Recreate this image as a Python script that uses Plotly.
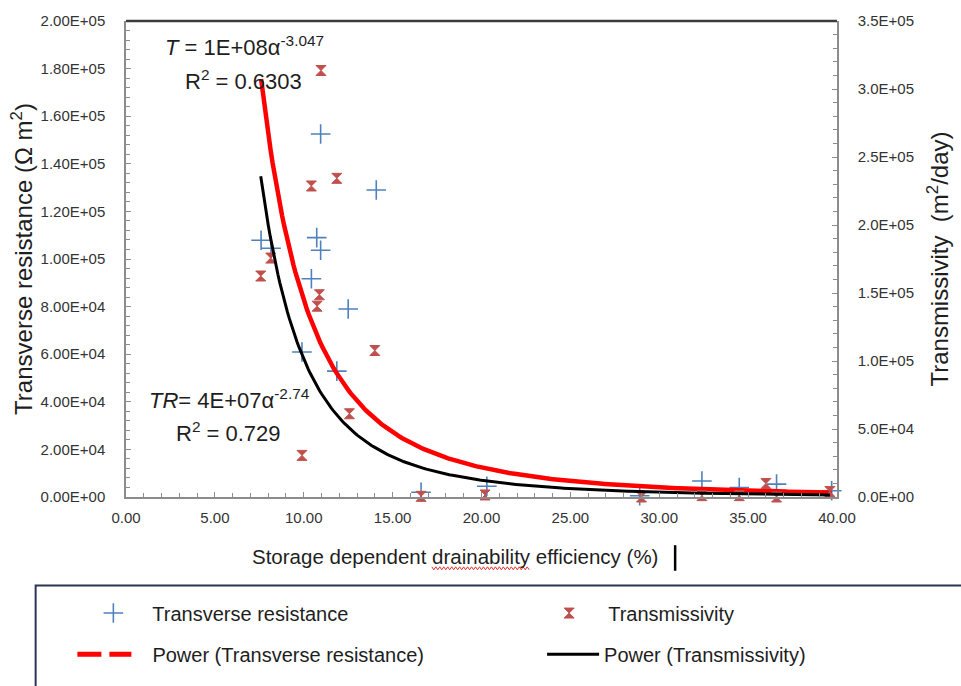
import numpy as np
import plotly.graph_objects as go

# ---------------- data ----------------
# Transverse resistance (left axis, Ohm m2) vs drainability efficiency (%)
tr_x = [7.60, 8.16, 9.90, 10.43, 10.73, 10.95, 10.95, 11.86, 12.50, 14.08,
        16.60, 20.30, 28.90, 32.40, 34.50, 36.60, 39.70]
tr_y = [107900, 104500, 60900, 91700, 109000, 152500, 103700, 52900, 79000, 129000,
        2000, 4500, 500, 6700, 4000, 5400, 2600]

# Transmissivity (right axis, m2/day) vs drainability efficiency (%)
t_x = [7.58, 8.14, 9.90, 10.43, 10.75, 10.88, 10.97, 11.86, 12.57, 14.00,
       16.60, 20.20, 29.00, 32.40, 34.50, 36.00, 36.60, 39.60]
t_y = [162500, 175700, 30600, 228700, 140300, 148700, 313600, 234300, 61200, 107700,
       500, 1500, 0, 1000, 1000, 9900, 0, 4000]

# Power trend lines  y = a * x^b (coefficients)
tr_coef, tr_exp = 4.55e7, -2.74
t_coef, t_exp = 1.13e8, -3.047

# tick labels
x_tickvals = [0, 5, 10, 15, 20, 25, 30, 35, 40]
x_ticktext = ["0.00", "5.00", "10.00", "15.00", "20.00", "25.00", "30.00", "35.00", "40.00"]
y_tickvals = [0, 20000, 40000, 60000, 80000, 100000, 120000, 140000, 160000, 180000, 200000]
y_ticktext = ["0.00E+00", "2.00E+04", "4.00E+04", "6.00E+04", "8.00E+04", "1.00E+05",
              "1.20E+05", "1.40E+05", "1.60E+05", "1.80E+05", "2.00E+05"]
y2_tickvals = [0, 50000, 100000, 150000, 200000, 250000, 300000, 350000]
y2_ticktext = ["0.0E+00", "5.0E+04", "1.0E+05", "1.5E+05", "2.0E+05", "2.5E+05",
               "3.0E+05", "3.5E+05"]

# ---------------- layout geometry (pixels) ----------------
W, H = 961, 686
PX0, PX1, PY0, PY1 = 126, 842, 19, 503


def px(xp):
    return (xp - PX0) / (PX1 - PX0)


def py(yp):
    return (PY1 - yp) / (PY1 - PY0)


FONT = "Liberation Sans, Arial, sans-serif"
TXT = "#1e1e1e"
BLUE = "#4f81bd"
DRED = "#c0504d"

fig = go.Figure()

# trend-line samples over each series' x range
tr_grid = np.linspace(min(tr_x), max(tr_x), 300)
t_grid = np.linspace(min(t_x), max(t_x), 300)

fig.add_trace(go.Scatter(
    x=tr_x, y=tr_y, mode="markers", name="Transverse resistance",
    marker=dict(symbol="cross-thin", size=14, color=BLUE, line=dict(width=1.6, color=BLUE)),
    cliponaxis=False, legend="legend"))
fig.add_trace(go.Scatter(
    x=tr_grid, y=tr_coef * tr_grid ** tr_exp, mode="lines", name="Power (Transverse resistance)",
    line=dict(color="#ff0000", width=4.5), showlegend=False))
fig.add_trace(go.Scatter(
    x=t_x, y=t_y, mode="markers", name="Transmissivity", yaxis="y2",
    marker=dict(symbol="hourglass", size=10, color=DRED, line=dict(width=1, color=DRED)),
    cliponaxis=False, legend="legend2"))
fig.add_trace(go.Scatter(
    x=t_grid, y=t_coef * t_grid ** t_exp, mode="lines", name="Power (Transmissivity)",
    yaxis="y2", line=dict(color="#000000", width=3), legend="legend4"))
# legend entry for the red trend line (drawn dashed in the legend key)
fig.add_trace(go.Scatter(
    x=[None], y=[None], mode="lines", name="Power (Transverse resistance)",
    line=dict(color="#ff0000", width=5, dash="24px,8px,22px,60px"), legend="legend3"))

leg_common = dict(orientation="h", xanchor="left", yanchor="middle",
                  bgcolor="rgba(0,0,0,0)", borderwidth=0,
                  font=dict(family=FONT, size=20, color=TXT))

fig.update_layout(
    width=W, height=H,
    margin=dict(l=PX0, r=W - PX1, t=PY0, b=H - PY1, pad=0),
    paper_bgcolor="white", plot_bgcolor="white",
    font=dict(family=FONT, color=TXT),
    legend=dict(x=px(93 - 19), y=py(621), itemwidth=68, **leg_common),
    legend2=dict(x=px(552 - 19), y=py(621), itemwidth=68, **leg_common),
    legend3=dict(x=px(72), y=py(663), itemwidth=70, **leg_common),
    legend4=dict(x=px(545), y=py(663), itemwidth=52, **leg_common),
    xaxis=dict(
        range=[0, 40], tickvals=x_tickvals, ticktext=x_ticktext,
        showline=True, linecolor="#8c8c8c", linewidth=1.5, showgrid=False, zeroline=False,
        ticks="inside", ticklen=5, tickcolor="#8c8c8c",
        minor=dict(dtick=1, ticks="inside", ticklen=4, tickcolor="#8c8c8c"),
        tickfont=dict(family=FONT, size=15, color="#333333"), ticklabelstandoff=6),
    yaxis=dict(
        range=[0, 200000], tickvals=y_tickvals, ticktext=y_ticktext,
        showline=True, linecolor="#8c8c8c", linewidth=1.5, showgrid=False, zeroline=False,
        ticks="inside", ticklen=5, tickcolor="#8c8c8c",
        minor=dict(dtick=4000, ticks="inside", ticklen=4, tickcolor="#8c8c8c"),
        tickfont=dict(family=FONT, size=15, color="#333333"), ticklabelstandoff=16,
        title=dict(text="Transverse resistance (\u03a9 m<sup>2</sup>)", standoff=1,
                   font=dict(family=FONT, size=24, color=TXT))),
    yaxis2=dict(
        range=[0, 350000], overlaying="y", side="right", tickvals=y2_tickvals,
        ticktext=y2_ticktext, showline=True, linecolor="#8c8c8c", linewidth=1.5,
        showgrid=False, zeroline=False, ticks="inside", ticklen=5, tickcolor="#8c8c8c",
        minor=dict(dtick=10000, ticks="inside", ticklen=4, tickcolor="#8c8c8c"),
        tickfont=dict(family=FONT, size=15, color="#333333"), ticklabelstandoff=16,
        title=dict(text="Transmissivity  (m<sup>2</sup>/day)", standoff=18,
                   font=dict(family=FONT, size=24, color=TXT))),
)

# equation annotations
ann = [
    ("<i>T</i> = 1E+08\u03b1<sup>-3.047</sup>", 163, 44),
    ("R<sup>2</sup> = 0.6303", 183, 79),
    ("<i>TR</i>= 4E+07\u03b1<sup>-2.74</sup>", 147, 403),
    ("R<sup>2</sup> = 0.729", 174, 437),
]
for text, xx, yy in ann:
    fig.add_annotation(text=text, x=px(xx), y=py(yy), xref="paper", yref="paper",
                       xanchor="left", yanchor="middle", showarrow=False,
                       font=dict(family=FONT, size=22, color=TXT))

# x axis title (offset to the left as in the reference) and text cursor mark
fig.add_annotation(text="Storage dependent drainability efficiency (%)", x=px(457), y=py(563),
                   xref="paper", yref="paper", xanchor="center", yanchor="middle",
                   showarrow=False, font=dict(family=FONT, size=20.5, color=TXT))
fig.add_shape(type="line", xref="paper", yref="paper", x0=px(679), x1=px(679),
              y0=py(552), y1=py(578), line=dict(color="black", width=2.5))

# red spell-check squiggle under "drainability"
zx = np.arange(434, 534, 2.0)
zy = np.where(np.arange(len(zx)) % 2 == 0, 574.0, 577.0)
path = "M " + " L ".join(f"{px(a):.5f},{py(b):.5f}" for a, b in zip(zx, zy))
fig.add_shape(type="path", path=path, xref="paper", yref="paper",
              line=dict(color="#e03030", width=1))

# top border of plot area
fig.add_shape(type="line", xref="paper", yref="paper", x0=0, x1=1, y0=1, y1=1,
              line=dict(color="#3c3c3c", width=2.5))

# legend frame
fig.add_shape(type="rect", xref="paper", yref="paper", x0=px(35), x1=px(990),
              y0=py(593), y1=py(700), line=dict(color="#2b3556", width=2),
              fillcolor="rgba(0,0,0,0)", layer="below")

fig.write_html("out.html")
